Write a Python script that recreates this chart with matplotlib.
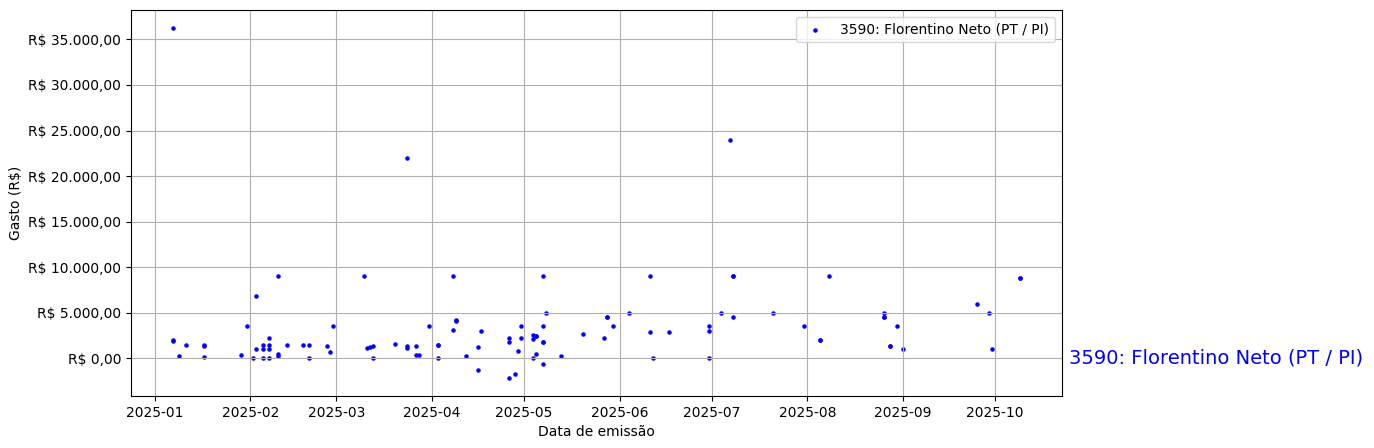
import matplotlib
matplotlib.use("Agg")
import matplotlib.pyplot as plt
import matplotlib.transforms as mtransforms
from matplotlib.ticker import FuncFormatter, MultipleLocator
import pandas as pd

nome = "3590: Florentino Neto (PT / PI)"

# data de emissão de cada nota e o valor gasto (R$)
datas = [
    "2025-01-07", "2025-01-07", "2025-01-07", "2025-01-09", "2025-01-11",
    "2025-01-17", "2025-01-17", "2025-01-17", "2025-01-29", "2025-01-31",
    "2025-02-02", "2025-02-03", "2025-02-03", "2025-02-05", "2025-02-05",
    "2025-02-05", "2025-02-07", "2025-02-07", "2025-02-07", "2025-02-07",
    "2025-02-10", "2025-02-10", "2025-02-10", "2025-02-13", "2025-02-18",
    "2025-02-20", "2025-02-20", "2025-02-26", "2025-02-27", "2025-02-28",
    "2025-03-10", "2025-03-11", "2025-03-12", "2025-03-13", "2025-03-13",
    "2025-03-20", "2025-03-24", "2025-03-24", "2025-03-24", "2025-03-27",
    "2025-03-27", "2025-03-28", "2025-03-31", "2025-04-03", "2025-04-03",
    "2025-04-03", "2025-04-08", "2025-04-08", "2025-04-09", "2025-04-09",
    "2025-04-12", "2025-04-16", "2025-04-16", "2025-04-17", "2025-04-26",
    "2025-04-26", "2025-04-26", "2025-04-28", "2025-04-29", "2025-04-30",
    "2025-04-30", "2025-05-04", "2025-05-04", "2025-05-04", "2025-05-05",
    "2025-05-05", "2025-05-05", "2025-05-07", "2025-05-07", "2025-05-07",
    "2025-05-07", "2025-05-07", "2025-05-08", "2025-05-13", "2025-05-20",
    "2025-05-27", "2025-05-28", "2025-05-28", "2025-05-30", "2025-06-04",
    "2025-06-11", "2025-06-11", "2025-06-12", "2025-06-17", "2025-06-30",
    "2025-06-30", "2025-06-30", "2025-07-04", "2025-07-07", "2025-07-08",
    "2025-07-08", "2025-07-08", "2025-07-21", "2025-07-31", "2025-08-05",
    "2025-08-05", "2025-08-08", "2025-08-26", "2025-08-26", "2025-08-26",
    "2025-08-28", "2025-08-28", "2025-08-30", "2025-09-01", "2025-09-25",
    "2025-09-29", "2025-09-30", "2025-10-09", "2025-10-09",
]
gastos = [
    36300, 2000, 1900, 220, 1440,
    1500, 1400, 100, 330, 3550,
    70, 6890, 1000, 1440, 1000,
    30, 2220, 1440, 1070, 0,
    9000, 220, 440, 1440, 1440,
    1440, 70, 1330, 670, 3550,
    9000, 1130, 1220, 1330, 70,
    1550, 22000, 1330, 1110, 1330,
    330, 330, 3550, 1500, 1440,
    0, 9000, 3080, 4200, 4100,
    220, 1210, -1320, 2970, 2200,
    1760, -2200, -1760, 770, 3520,
    2200, 2530, 2090, 0, 2420,
    2420, 440, 9000, 3520, 1830,
    1830, -660, 5000, 220, 2640,
    2200, 4510, 4510, 3520, 5000,
    9000, 2860, 0, 2860, 3520,
    2970, 70, 5000, 24000, 9000,
    9000, 4510, 5000, 3520, 1980,
    1980, 9000, 5000, 4510, 4510,
    1390, 1390, 3520, 990, 5940,
    5000, 990, 8800, 8800,
]

df = pd.DataFrame({"data": pd.to_datetime(datas), "gasto": gastos})

def reais(v, pos):
    s = f"{v:,.2f}".replace(",", "X").replace(".", ",").replace("X", ".")
    return "R$ " + s

fig = plt.figure(figsize=(13.74, 4.48), dpi=100)
ax = fig.add_axes([0.0953, 0.1161, 0.6776, 0.8616])

ax.scatter(df["data"], df["gasto"], s=5, c="blue", label=nome)
ax.yaxis.set_major_locator(MultipleLocator(5000))
ax.yaxis.set_major_formatter(FuncFormatter(reais))
ax.grid(True)
ax.set_xlabel("Data de emissão")
ax.set_ylabel("Gasto (R$)")
ax.legend(loc="upper right")

# nome do deputado à direita, na altura do zero
trans = mtransforms.blended_transform_factory(ax.transAxes, ax.transData)
ax.text(1.008, 0, nome, transform=trans, color="blue", fontsize=14,
        va="center", ha="left")

fig.savefig("out.png", dpi=100)
